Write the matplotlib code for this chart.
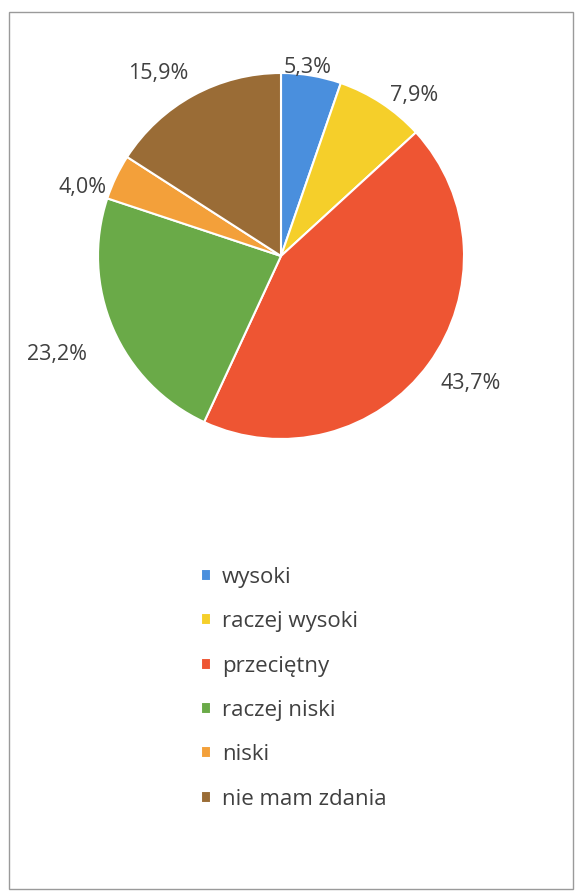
import numpy as np
import matplotlib.pyplot as plt
from matplotlib.patches import Rectangle

categories = ['wysoki', 'raczej wysoki', 'przeciętny', 'raczej niski', 'niski', 'nie mam zdania']
values = [5.3, 7.9, 43.7, 23.2, 4.0, 15.9]
colors = ['#4a8fdd', '#f5cf2a', '#ee5533', '#6aaa48', '#f3a03a', '#9a6c36']

# label placement (radius factor, angle shift in degrees), like Excel's best fit
lab_r = [1.04, 1.14, 1.25, 1.34, 1.15, 1.20]
lab_shift = [1.5, -6.3, 2.3, 0.4, 6.5, 5.3]

plt.rcParams['font.family'] = ['Open Sans', 'DejaVu Sans']

W, H = 577, 892
fig = plt.figure(figsize=(W / 100, H / 100), dpi=100)

# pie: centre (281, 256) px, radius 183 px
cx, cy, R, half = 281, 256, 183, 250
ax = fig.add_axes([(cx - half) / W, (H - cy - half) / H, 2 * half / W, 2 * half / H])
wedges, texts, autotexts = ax.pie(
    values, colors=colors, startangle=90, counterclock=False,
    autopct=lambda p: f'{p:.1f}%'.replace('.', ','), pctdistance=1.2,
    wedgeprops=dict(edgecolor='white', linewidth=1.5),
    textprops=dict(fontsize=15.5, color='#404040'))
for w, t, r, s in zip(wedges, autotexts, lab_r, lab_shift):
    ang = np.deg2rad((w.theta1 + w.theta2) / 2 + s)
    t.set_position((r * np.cos(ang), r * np.sin(ang)))
lim = half / R
ax.set_xlim(-lim, lim)
ax.set_ylim(-lim, lim)
ax.set_aspect('equal')
ax.axis('off')

fig.legend(wedges, categories, loc='upper left', bbox_to_anchor=(201 / W, 1 - 567 / H),
           frameon=False, fontsize=16, labelcolor='#404040',
           handlelength=0.45, handleheight=0.45, handletextpad=0.5, labelspacing=1.05,
           borderpad=0, borderaxespad=0)

fig.add_artist(Rectangle((9 / W, 3 / H), 564 / W, 877 / H, transform=fig.transFigure,
                         fill=False, edgecolor='#9a9a9a', linewidth=1))

fig.savefig('out.png', dpi=100)
